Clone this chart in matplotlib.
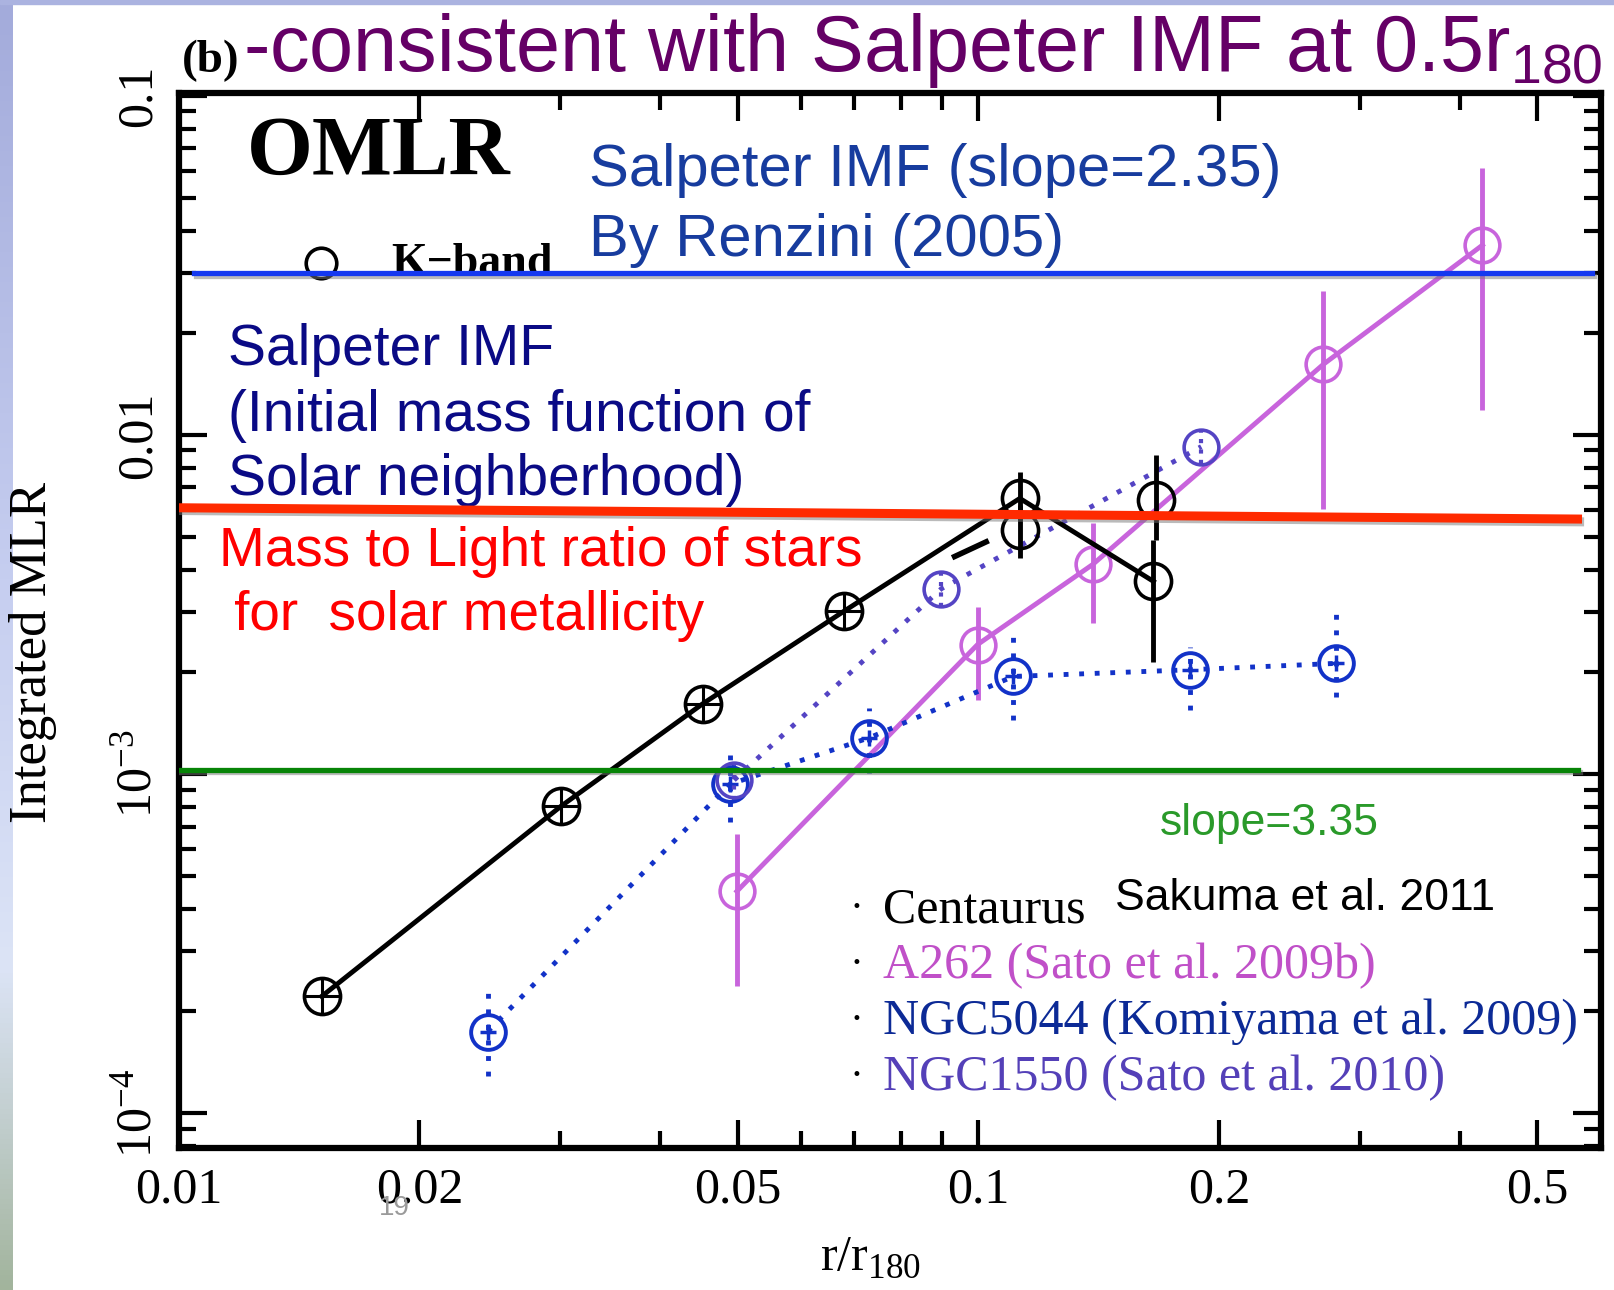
import numpy as np
import matplotlib.pyplot as plt
from matplotlib import patheffects as pe
from matplotlib.colors import LinearSegmentedColormap
from matplotlib.patches import Rectangle
from matplotlib.ticker import FixedLocator, NullFormatter

plt.rcParams['font.family'] = ['Liberation Serif', 'DejaVu Serif']
plt.rcParams['mathtext.fontset'] = 'custom'
plt.rcParams['mathtext.rm'] = 'Liberation Serif'
plt.rcParams['mathtext.sf'] = 'Liberation Sans'

# Centaurus (Sakuma et al. 2011)
cen_r = np.array([0.0151, 0.0301, 0.0452, 0.0679, 0.1127, 0.1656])
cen_mlr = np.array([2.21e-4, 8.05e-4, 1.61e-3, 3.02e-3, 6.5e-3, 3.70e-3])
cen_lo = np.array([2.21e-4, 8.05e-4, 1.61e-3, 3.02e-3, 5.6e-3, 2.14e-3])
cen_hi = np.array([2.21e-4, 8.05e-4, 1.61e-3, 3.02e-3, 7.8e-3, 4.9e-3])
# second Centaurus profile (mostly hidden)
cen2_r = np.array([0.1127, 0.167])
cen2_mlr = np.array([5.25e-3, 6.43e-3])
cen2_lo = np.array([4.33e-3, 4.9e-3])
cen2_hi = np.array([6.2e-3, 8.73e-3])
cen2_dash_r = [0.0934, 0.1023]
cen2_dash_mlr = [4.38e-3, 4.84e-3]

# A262 (Sato et al. 2009b)
a262_r = np.array([0.0499, 0.0998, 0.139, 0.270, 0.427])
a262_mlr = np.array([4.51e-4, 2.41e-3, 4.15e-3, 0.01615, 0.0363])
a262_lo = np.array([2.37e-4, 1.65e-3, 2.79e-3, 6.03e-3, 0.01188])
a262_hi = np.array([6.67e-4, 3.1e-3, 5.5e-3, 0.02655, 0.0614])

# NGC5044 (Komiyama et al. 2009)
n5044_r = np.array([0.02435, 0.0489, 0.0731, 0.1106, 0.1837, 0.280])
n5044_mlr = np.array([1.74e-4, 9.33e-4, 1.28e-3, 1.94e-3, 2.03e-3, 2.12e-3])
n5044_lo = np.array([1.29e-4, 7.23e-4, 1.01e-3, 1.44e-3, 1.55e-3, 1.69e-3])
n5044_hi = np.array([2.26e-4, 1.14e-3, 1.57e-3, 2.61e-3, 2.37e-3, 3.11e-3])

# NGC1550 (Sato et al. 2010)
n1550_r = np.array([0.0495, 0.0899, 0.190])
n1550_mlr = np.array([9.6e-4, 3.52e-3, 9.24e-3])
n1550_lo = np.array([8.4e-4, 3.1e-3, 8.2e-3])
n1550_hi = np.array([1.1e-3, 4.0e-3, 1.04e-2])

# reference levels
renzini_r = [0.01045, 0.5855]
renzini_mlr = [0.03, 0.03]
stellar_r = [0.01004, 0.5614]
stellar_mlr = [6.1e-3, 5.65e-3]
slope335_r = [0.01, 0.5614]
slope335_mlr = [1.03e-3, 1.03e-3]

xticks = [0.01, 0.02, 0.05, 0.1, 0.2, 0.5]
xticklabels = ['0.01', '0.02', '0.05', '0.1', '0.2', '0.5']
xminor = [0.03, 0.04, 0.06, 0.07, 0.08, 0.09, 0.3, 0.4]
yticks = [1e-4, 1e-3, 1e-2, 1e-1]
yticklabels = [r'$\mathregular{10^{-4}}$', r'$\mathregular{10^{-3}}$', '0.01', '0.1']

W, H = 1614, 1290
fig = plt.figure(figsize=(W / 100, H / 100), dpi=100)

# slide background strips
grad = LinearSegmentedColormap.from_list(
    'edge', [(0, '#a3abdb'), (0.45, '#c6cef0'), (0.75, '#dce4f6'),
             (0.86, '#c4d0d2'), (1, '#a2b49c')])
gax = fig.add_axes([0, 0, 13 / W, 1])
gax.imshow(np.linspace(0, 1, 256)[:, None], aspect='auto', cmap=grad)
gax.axis('off')
fig.patches.append(Rectangle((0, 1 - 4 / H), 1, 4 / H, transform=fig.transFigure,
                             color='#abb3e0', zorder=0))

ax = fig.add_axes([178.6 / W, 1 - 1148 / H, 1422 / W, 1055 / H])
ax.set_xscale('log')
ax.set_yscale('log')
ax.set_xlim(0.01, 0.60)
ax.set_ylim(7.89e-5, 0.102)

shadow = [pe.SimpleLineShadow(offset=(1.5, -2), shadow_color='#777777', alpha=0.5), pe.Normal()]
ax.plot(renzini_r, renzini_mlr, color='#1438f0', lw=3.8, zorder=6, path_effects=shadow)
ax.plot(stellar_r, stellar_mlr, color='#ff2a00', lw=6.5, zorder=6, path_effects=shadow)
ax.plot(slope335_r, slope335_mlr, color='#078407', lw=3.8, zorder=6, path_effects=shadow)

# Centaurus
ax.plot(cen_r, cen_mlr, '-', color='k', lw=3.5, zorder=4)
ax.plot(cen_r, cen_mlr, 'o', ms=26, mfc='none', mec='k', mew=2.6, zorder=4)
ax.plot(cen_r[:4], cen_mlr[:4], '+', ms=26, mew=2.2, color='k', zorder=4)
ax.errorbar(cen_r[4:], cen_mlr[4:], yerr=[cen_mlr[4:] - cen_lo[4:], cen_hi[4:] - cen_mlr[4:]],
            fmt='none', ecolor='k', elinewidth=3.5, zorder=4)
ax.errorbar(cen2_r, cen2_mlr, yerr=[cen2_mlr - cen2_lo, cen2_hi - cen2_mlr],
            fmt='o', ms=26, mfc='none', mec='k', mew=2.6, ecolor='k', elinewidth=3.5, zorder=4)
ax.plot(cen2_dash_r, cen2_dash_mlr, '-', color='k', lw=4, zorder=4)

# A262
mag = '#c864dc'
ax.plot(a262_r, a262_mlr, '-', color=mag, lw=3.5, zorder=3)
ax.errorbar(a262_r, a262_mlr, yerr=[a262_mlr - a262_lo, a262_hi - a262_mlr],
            fmt='o', ms=25, mfc='none', mec=mag, mew=2.6, ecolor=mag, elinewidth=3.5, zorder=3)

# NGC5044
blue = '#1232c8'
ax.plot(n5044_r, n5044_mlr, color=blue, lw=3.5, ls=(0, (1, 2.2)), zorder=3)
eb = ax.errorbar(n5044_r, n5044_mlr, yerr=[n5044_mlr - n5044_lo, n5044_hi - n5044_mlr],
                 fmt='o', ms=25, mfc='none', mec=blue, mew=2.8, ecolor=blue, elinewidth=3.5, zorder=3)
eb[2][0].set_linestyle((0, (1, 2.2)))
ax.plot(n5044_r, n5044_mlr, '+', ms=12, mew=2.5, color=blue, zorder=3)

# NGC1550
purp = '#5444c4'
ax.plot(n1550_r, n1550_mlr, color=purp, lw=3.5, ls=(0, (1, 2.2)), zorder=3)
eb = ax.errorbar(n1550_r, n1550_mlr, yerr=[n1550_mlr - n1550_lo, n1550_hi - n1550_mlr],
                 fmt='o', ms=25, mfc='none', mec=purp, mew=2.6, ecolor=purp, elinewidth=3, zorder=3)
eb[2][0].set_linestyle((0, (1, 1.5)))

# axes styling
for s in ax.spines.values():
    s.set_linewidth(4.5)
ax.xaxis.set_major_locator(FixedLocator(xticks))
ax.set_xticklabels(xticklabels)
ax.xaxis.set_minor_locator(FixedLocator(xminor))
ax.xaxis.set_minor_formatter(NullFormatter())
ax.yaxis.set_major_locator(FixedLocator(yticks))
ax.set_yticklabels(yticklabels)
ax.tick_params(which='both', direction='in', top=True, right=True, width=3, labelsize=36)
ax.tick_params(which='major', length=20)
ax.tick_params(which='minor', length=12)
ax.tick_params(axis='x', pad=14)
ax.tick_params(axis='y', pad=12)
for t in ax.get_yticklabels():
    t.set_rotation(90)
    t.set_va('center')

fig.text(33 / W, 1 - 652 / H, 'Integrated MLR', rotation=90, fontsize=38,
         ha='center', va='center')
fig.text(870 / W, 1 - 1258 / H, r'r/r$_{\mathrm{180}}$', fontsize=36, ha='center', va='center')
fig.text(394 / W, 1 - 1208 / H, '19', fontsize=20, color='#9a9a9a',
         family='Liberation Sans', ha='center', va='center')


def note(x, y, s, **kw):
    ax.text(x / W, 1 - y / H, s, transform=fig.transFigure, zorder=2, clip_on=False, **kw)


sans = dict(family='Liberation Sans', va='center', ha='left')
note(182, 61, '(b)', fontsize=34, fontweight='bold', va='center')
note(243, 50, r'-consistent with Salpeter IMF at 0.5r$_{\mathsf{180}}$', fontsize=57,
     color='#650066', **sans)
note(247, 154, 'OMLR', fontsize=61, fontweight='bold', va='center')
ax.plot(0.1001, 0.8393, 'o', ms=22, mfc='none', mec='k', mew=2.6,
        transform=ax.transAxes, zorder=2, clip_on=False)
note(391, 264, 'K\u2212band', fontsize=33, fontweight='bold', va='center')

note(589, 170, 'Salpeter IMF (slope=2.35)', fontsize=43, color='#173c9e', **sans)
note(589, 240, 'By Renzini (2005)', fontsize=43, color='#173c9e', **sans)
navy = '#0a0a85'
note(228, 350, 'Salpeter IMF', fontsize=41, color=navy, **sans)
note(228, 416, '(Initial mass function of', fontsize=41, color=navy, **sans)
note(228, 480, 'Solar neighberhood)', fontsize=41, color=navy, **sans)
note(219, 552, 'Mass to Light ratio of stars', fontsize=39.5, color='#ff0000', **sans)
note(219, 616, ' for  solar metallicity', fontsize=39.5, color='#ff0000', **sans)
note(1160, 823, 'slope=3.35', fontsize=32, color='#2a9a2a', **sans)
note(1115, 898, 'Sakuma et al. 2011', fontsize=32, color='k', **sans)

legend_names = ['Centaurus', 'A262 (Sato et al. 2009b)',
                'NGC5044 (Komiyama et al. 2009)', 'NGC1550 (Sato et al. 2010)']
legend_colors = ['k', '#c050c8', '#0c2a96', '#5440b8']
for i, (name, col) in enumerate(zip(legend_names, legend_colors)):
    y = 910 + i * 56
    note(850, y, '\u00b7', fontsize=30, color='k', va='center', ha='left')
    note(883, y, name, fontsize=36, color=col, va='center', ha='left')

fig.savefig('out.png', dpi=100)
